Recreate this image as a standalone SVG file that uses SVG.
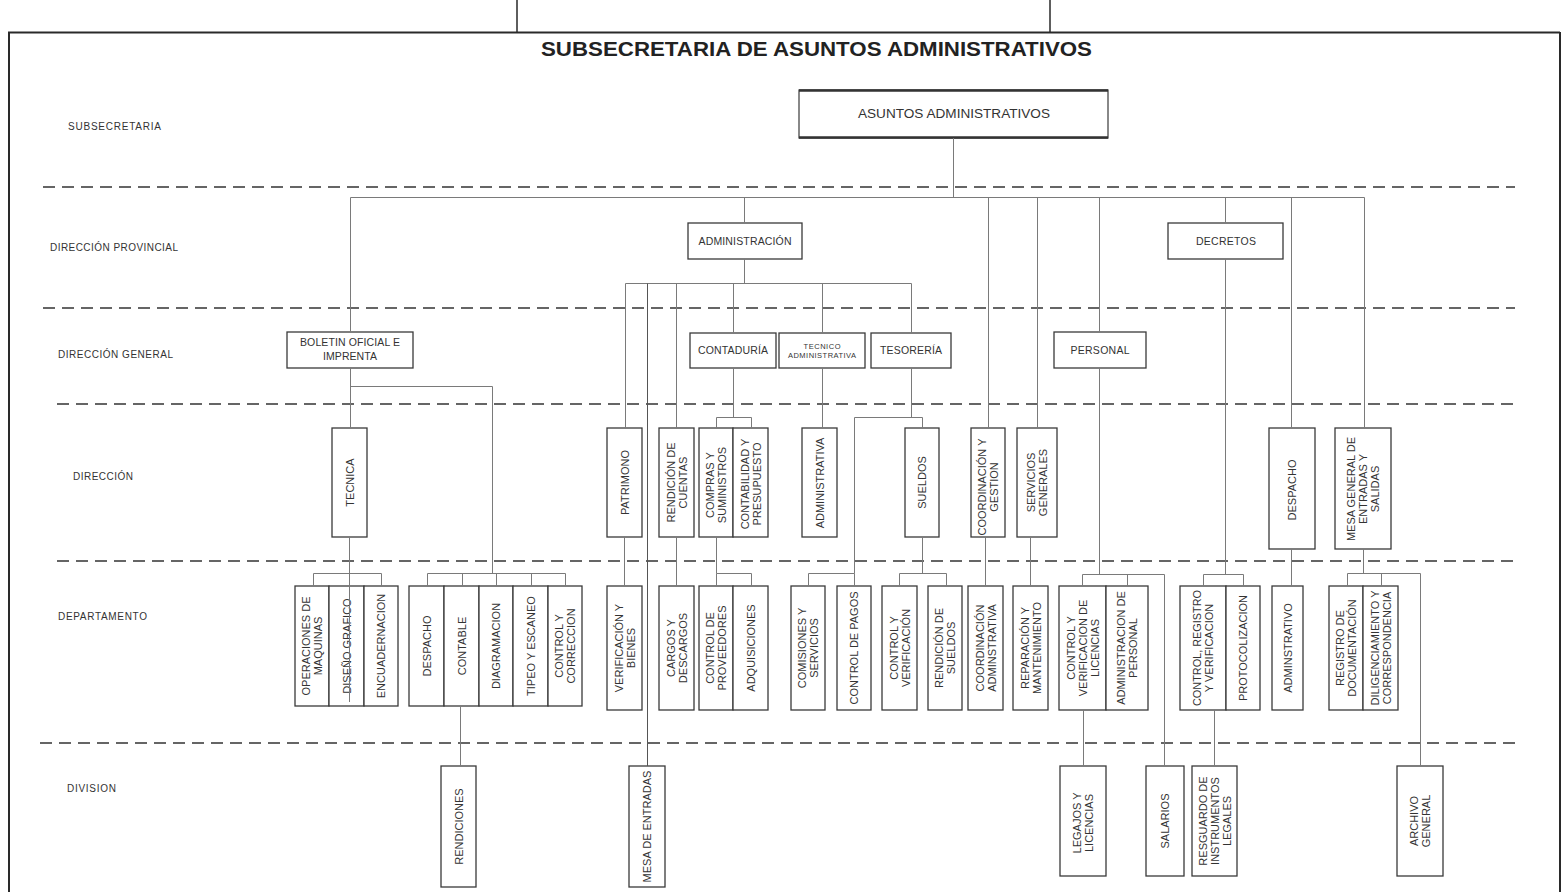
<svg xmlns="http://www.w3.org/2000/svg" width="1567" height="892" viewBox="0 0 1567 892">
<style>
.bg{fill:#fff}
.frame{fill:none;stroke:#2a2a2a;stroke-width:2}
.dash{fill:none;stroke:#333;stroke-width:1.3;stroke-dasharray:12 7}
.box{fill:#fff;stroke:#3a3a3a;stroke-width:1.3}
.c{fill:none;stroke:#7a7a7a;stroke-width:1}
.t{font-family:"Liberation Sans",Arial,sans-serif;fill:#333}
.lvl{font-size:10px}
.h{font-size:11px;text-anchor:middle}
.vt{font-size:11px;text-anchor:middle}
.title{font-size:20px;font-weight:bold;fill:#222}
</style>
<rect class="bg" x="0" y="0" width="1567" height="892"/>
<g id="frame">
<path class="frame" d="M8 32.5 H1560 M9 32 V892 M1560 32 V892"/>
<path class="frame" d="M517 0 V32 M1050 0 V32" style="stroke-width:1.5"/>
</g>
<text class="t title" x="541" y="56" textLength="551" lengthAdjust="spacingAndGlyphs">SUBSECRETARIA DE ASUNTOS ADMINISTRATIVOS</text>
<g id="levels">
<path class="dash" d="M43 187 H1515"/>
<path class="dash" d="M43 308 H1515"/>
<path class="dash" d="M57 404 H1517"/>
<path class="dash" d="M57 561 H1517"/>
<path class="dash" d="M40 743 H1515"/>
<text class="t lvl" x="68" y="130" textLength="93">SUBSECRETARIA</text>
<text class="t lvl" x="50" y="251" textLength="128">DIRECCIÓN PROVINCIAL</text>
<text class="t lvl" x="58" y="358" textLength="115">DIRECCIÓN GENERAL</text>
<text class="t lvl" x="73" y="480" textLength="60">DIRECCIÓN</text>
<text class="t lvl" x="58" y="620" textLength="89">DEPARTAMENTO</text>
<text class="t lvl" x="67" y="792" textLength="49">DIVISION</text>
</g>
<g id="nodes">
<g id="n-asuntos"><rect class="box" x="799" y="90" width="309" height="48" style="stroke-width:1.2"/><path d="M799 90.5 H1108 M799 137.5 H1108" stroke="#333" stroke-width="2.5"/><text class="t h" x="954" y="118" style="font-size:12px" textLength="192" lengthAdjust="spacingAndGlyphs">ASUNTOS ADMINISTRATIVOS</text></g>
<g id="n-administracion"><rect class="box" x="688" y="223" width="114" height="36"/><text class="t h" x="745" y="245" style="font-size:10.5px" textLength="93">ADMINISTRACIÓN</text></g>
<g id="n-decretos"><rect class="box" x="1168" y="223" width="115" height="36"/><text class="t h" x="1226" y="245" style="font-size:10.5px" textLength="60">DECRETOS</text></g>
<g id="n-boletin"><rect class="box" x="287" y="332" width="126" height="36"/><text class="t h" x="350" y="346" style="font-size:10.5px"><tspan x="350" y="346" textLength="100">BOLETIN OFICIAL E</tspan><tspan x="350" y="360" textLength="54">IMPRENTA</tspan></text></g>
<g id="n-contaduria"><rect class="box" x="690" y="333" width="86" height="35"/><text class="t h" x="733" y="354" style="font-size:10.5px" textLength="70">CONTADURÍA</text></g>
<g id="n-tecnico-adm"><rect class="box" x="779" y="333" width="86" height="35"/><text class="t h" style="font-size:7.5px"><tspan x="822" y="348.5" textLength="37">TECNICO</tspan><tspan x="822" y="357.5" textLength="68">ADMINISTRATIVA</tspan></text></g>
<g id="n-tesoreria"><rect class="box" x="871" y="333" width="80" height="35"/><text class="t h" x="911" y="354" style="font-size:10.5px" textLength="62">TESORERÍA</text></g>
<g id="n-personal"><rect class="box" x="1054" y="332" width="92" height="36"/><text class="t h" x="1100" y="354" style="font-size:10.5px" textLength="59">PERSONAL</text></g>

<g id="n-tecnica"><rect class="box" x="332" y="428" width="35" height="109"/><text class="t vt" transform="translate(349.5 482.5) rotate(-90)"><tspan x="0" y="4">TECNICA</tspan></text></g>
<g id="n-patrimono"><rect class="box" x="607" y="428" width="35" height="109"/><text class="t vt" transform="translate(624.5 482.5) rotate(-90)"><tspan x="0" y="4">PATRIMONO</tspan></text></g>
<g id="n-rendicion-cuentas"><rect class="box" x="659" y="428" width="35" height="109"/><text class="t vt" transform="translate(676.5 482.5) rotate(-90)"><tspan x="0" y="-2">RENDICIÓN DE</tspan><tspan x="0" y="10">CUENTAS</tspan></text></g>
<g id="n-compras"><rect class="box" x="699" y="428" width="34" height="109"/><text class="t vt" transform="translate(716 485) rotate(-90)"><tspan x="0" y="-2">COMPRAS Y</tspan><tspan x="0" y="10">SUMINISTROS</tspan></text></g>
<g id="n-contabilidad"><rect class="box" x="733" y="428" width="35" height="109"/><text class="t vt" transform="translate(750.5 484) rotate(-90)"><tspan x="0" y="-2">CONTABILIDAD Y</tspan><tspan x="0" y="10">PRESUPUESTO</tspan></text></g>
<g id="n-administrativa"><rect class="box" x="802" y="428" width="35" height="109"/><text class="t vt" transform="translate(819.5 483) rotate(-90)"><tspan x="0" y="4">ADMINISTRATIVA</tspan></text></g>
<g id="n-sueldos"><rect class="box" x="905" y="428" width="34" height="109"/><text class="t vt" transform="translate(922 482.5) rotate(-90)"><tspan x="0" y="4">SUELDOS</tspan></text></g>
<g id="n-coordinacion-gestion"><rect class="box" x="971" y="428" width="34" height="109"/><text class="t vt" transform="translate(988 487) rotate(-90)"><tspan x="0" y="-2">COORDINACIÓN Y</tspan><tspan x="0" y="10">GESTION</tspan></text></g>
<g id="n-servicios-generales"><rect class="box" x="1017" y="428" width="40" height="109"/><text class="t vt" transform="translate(1037 482.5) rotate(-90)"><tspan x="0" y="-2">SERVICIOS</tspan><tspan x="0" y="10">GENERALES</tspan></text></g>
<g id="n-despacho-dir"><rect class="box" x="1269" y="428" width="46" height="121"/><text class="t vt" transform="translate(1292 490) rotate(-90)"><tspan x="0" y="4">DESPACHO</tspan></text></g>
<g id="n-mesa-general"><rect class="box" x="1335" y="428" width="56" height="121"/><text class="t vt" transform="translate(1363 489) rotate(-90)"><tspan x="0" y="-8">MESA GENERAL DE</tspan><tspan x="0" y="4">ENTRADAS Y</tspan><tspan x="0" y="16">SALIDAS</tspan></text></g>

<g id="n-operaciones"><rect class="box" x="295" y="586" width="34" height="120"/><text class="t vt" transform="translate(312 646) rotate(-90)"><tspan x="0" y="-2">OPERACIONES DE</tspan><tspan x="0" y="10">MAQUINAS</tspan></text></g>
<g id="n-diseno"><rect class="box" x="329" y="586" width="35" height="120"/><text class="t vt" transform="translate(346.5 646) rotate(-90)"><tspan x="0" y="4">DISEÑO GRAFICO</tspan></text></g>
<g id="n-encuadernacion"><rect class="box" x="364" y="586" width="34" height="120"/><text class="t vt" transform="translate(381 646) rotate(-90)"><tspan x="0" y="4">ENCUADERNACION</tspan></text></g>
<g id="n-despacho-dep"><rect class="box" x="409" y="586" width="35" height="120"/><text class="t vt" transform="translate(426.5 646) rotate(-90)"><tspan x="0" y="4">DESPACHO</tspan></text></g>
<g id="n-contable"><rect class="box" x="444" y="586" width="35" height="120"/><text class="t vt" transform="translate(461.5 646) rotate(-90)"><tspan x="0" y="4">CONTABLE</tspan></text></g>
<g id="n-diagramacion"><rect class="box" x="479" y="586" width="34" height="120"/><text class="t vt" transform="translate(496 646) rotate(-90)"><tspan x="0" y="4">DIAGRAMACION</tspan></text></g>
<g id="n-tipeo"><rect class="box" x="513" y="586" width="35" height="120"/><text class="t vt" transform="translate(530.5 646) rotate(-90)"><tspan x="0" y="4">TIPEO Y ESCANEO</tspan></text></g>
<g id="n-control-correccion"><rect class="box" x="548" y="586" width="34" height="120"/><text class="t vt" transform="translate(565 646) rotate(-90)"><tspan x="0" y="-2">CONTROL Y</tspan><tspan x="0" y="10">CORRECCION</tspan></text></g>
<g id="n-verificacion-bienes"><rect class="box" x="607" y="586" width="35" height="124"/><text class="t vt" transform="translate(624.5 648) rotate(-90)"><tspan x="0" y="-2">VERIFICACIÓN Y</tspan><tspan x="0" y="10">BIENES</tspan></text></g>
<g id="n-cargos"><rect class="box" x="659" y="586" width="35" height="124"/><text class="t vt" transform="translate(676.5 648) rotate(-90)"><tspan x="0" y="-2">CARGOS Y</tspan><tspan x="0" y="10">DESCARGOS</tspan></text></g>
<g id="n-control-proveedores"><rect class="box" x="699" y="586" width="34" height="124"/><text class="t vt" transform="translate(716 648) rotate(-90)"><tspan x="0" y="-2">CONTROL DE</tspan><tspan x="0" y="10">PROVEEDORES</tspan></text></g>
<g id="n-adquisiciones"><rect class="box" x="733" y="586" width="35" height="124"/><text class="t vt" transform="translate(750.5 648) rotate(-90)"><tspan x="0" y="4">ADQUISICIONES</tspan></text></g>
<g id="n-comisiones"><rect class="box" x="791" y="586" width="34" height="124"/><text class="t vt" transform="translate(808 648) rotate(-90)"><tspan x="0" y="-2">COMISIONES Y</tspan><tspan x="0" y="10">SERVICIOS</tspan></text></g>
<g id="n-control-pagos"><rect class="box" x="837" y="586" width="34" height="124"/><text class="t vt" transform="translate(854 648) rotate(-90)"><tspan x="0" y="4">CONTROL DE PAGOS</tspan></text></g>
<g id="n-control-verificacion"><rect class="box" x="882" y="586" width="35" height="124"/><text class="t vt" transform="translate(899.5 648) rotate(-90)"><tspan x="0" y="-2">CONTROL Y</tspan><tspan x="0" y="10">VERIFICACIÓN</tspan></text></g>
<g id="n-rendicion-sueldos"><rect class="box" x="928" y="586" width="34" height="124"/><text class="t vt" transform="translate(945 648) rotate(-90)"><tspan x="0" y="-2">RENDICIÓN DE</tspan><tspan x="0" y="10">SUELDOS</tspan></text></g>
<g id="n-coordinacion-adm"><rect class="box" x="968" y="586" width="35" height="124"/><text class="t vt" transform="translate(985.5 648) rotate(-90)"><tspan x="0" y="-2">COORDINACIÓN</tspan><tspan x="0" y="10">ADMINSTRATIVA</tspan></text></g>
<g id="n-reparacion"><rect class="box" x="1013" y="586" width="35" height="124"/><text class="t vt" transform="translate(1030.5 648) rotate(-90)"><tspan x="0" y="-2">REPARACIÓN Y</tspan><tspan x="0" y="10">MANTENIMIENTO</tspan></text></g>
<g id="n-control-licencias"><rect class="box" x="1059" y="586" width="47" height="124"/><text class="t vt" transform="translate(1082.5 648) rotate(-90)"><tspan x="0" y="-8">CONTROL Y</tspan><tspan x="0" y="4">VERIFICACION DE</tspan><tspan x="0" y="16">LICENCIAS</tspan></text></g>
<g id="n-adm-personal"><rect class="box" x="1106" y="586" width="42" height="124"/><text class="t vt" transform="translate(1127 648) rotate(-90)"><tspan x="0" y="-2">ADMINISTRACION DE</tspan><tspan x="0" y="10">PERSONAL</tspan></text></g>
<g id="n-control-registro"><rect class="box" x="1180" y="586" width="46" height="124"/><text class="t vt" transform="translate(1203 648) rotate(-90)"><tspan x="0" y="-2" textLength="116" lengthAdjust="spacingAndGlyphs">CONTROL, REGISTRO</tspan><tspan x="0" y="10">Y VERIFICACION</tspan></text></g>
<g id="n-protocolizacion"><rect class="box" x="1226" y="586" width="34" height="124"/><text class="t vt" transform="translate(1243 648) rotate(-90)"><tspan x="0" y="4">PROTOCOLIZACION</tspan></text></g>
<g id="n-administrativo"><rect class="box" x="1272" y="586" width="31" height="124"/><text class="t vt" transform="translate(1287.5 648) rotate(-90)"><tspan x="0" y="4">ADMINSTRATIVO</tspan></text></g>
<g id="n-registro-doc"><rect class="box" x="1329" y="586" width="34" height="124"/><text class="t vt" transform="translate(1346 648) rotate(-90)"><tspan x="0" y="-2">REGISTRO DE</tspan><tspan x="0" y="10">DOCUMENTACIÓN</tspan></text></g>
<g id="n-diligenciamiento"><rect class="box" x="1363" y="586" width="35" height="124"/><text class="t vt" transform="translate(1380.5 648) rotate(-90)"><tspan x="0" y="-2">DILIGENCIAMIENTO Y</tspan><tspan x="0" y="10">CORRESPONDENCIA</tspan></text></g>

<g id="n-rendiciones"><rect class="box" x="441" y="766" width="35" height="121"/><text class="t vt" transform="translate(458.5 826.5) rotate(-90)"><tspan x="0" y="4">RENDICIONES</tspan></text></g>
<g id="n-mesa-entradas"><rect class="box" x="629" y="766" width="36" height="121"/><text class="t vt" transform="translate(647 826.5) rotate(-90)"><tspan x="0" y="4">MESA DE ENTRADAS</tspan></text></g>
<g id="n-legajos"><rect class="box" x="1060" y="766" width="46" height="110"/><text class="t vt" transform="translate(1083 823) rotate(-90)"><tspan x="0" y="-2">LEGAJOS Y</tspan><tspan x="0" y="10">LICENCIAS</tspan></text></g>
<g id="n-salarios"><rect class="box" x="1146" y="766" width="38" height="110"/><text class="t vt" transform="translate(1165 821) rotate(-90)"><tspan x="0" y="4">SALARIOS</tspan></text></g>
<g id="n-resguardo"><rect class="box" x="1192" y="766" width="45" height="110"/><text class="t vt" transform="translate(1214.5 821) rotate(-90)"><tspan x="0" y="-8">RESGUARDO DE</tspan><tspan x="0" y="4">INSTRUMENTOS</tspan><tspan x="0" y="16">LEGALES</tspan></text></g>
<g id="n-archivo"><rect class="box" x="1397" y="766" width="46" height="110"/><text class="t vt" transform="translate(1420 821) rotate(-90)"><tspan x="0" y="-2">ARCHIVO</tspan><tspan x="0" y="10">GENERAL</tspan></text></g>
</g>
<g id="connectors">
<path class="c" d="M953.5 138 V197.5 M350.5 197.5 H1364.5"/>
<path class="c" d="M350.5 197.5 V332 M744.5 197.5 V223 M988.5 197.5 V428 M1037.5 197.5 V428 M1099.5 197.5 V332 M1225.5 197.5 V223 M1291.5 197.5 V428 M1364.5 197.5 V428"/>
<path class="c" d="M350.5 368 V428 M350.5 386.5 H492.5 V573"/>
<path class="c" d="M349.5 537 V702 M313.5 573.5 H381.5 M313.5 573.5 V586 M381.5 573.5 V586"/>
<path class="c" d="M427.5 573.5 H565.5 M427.5 573.5 V586 M462.5 573.5 V586 M496.5 573.5 V586 M531.5 573.5 V586 M565.5 573.5 V586"/>
<path class="c" d="M460.5 706 V766"/>
<path class="c" d="M744.5 259 V283.5 M625.5 283.5 H911.5 M625.5 283.5 V428 M676.5 283.5 V428 M733.5 283.5 V333 M822.5 283.5 V333 M911.5 283.5 V333"/>
<path class="c" d="M647.5 283.5 V766" style="stroke:#555"/>
<path class="c" d="M624.5 537 V586 M676.5 537 V586"/>
<path class="c" d="M733.5 368 V417.5 M716.5 417.5 H751.5 M716.5 417.5 V428 M751.5 417.5 V428"/>
<path class="c" d="M716.5 537 V573.5 H751.5 V586 M716.5 573.5 V586"/>
<path class="c" d="M822.5 368 V428"/>
<path class="c" d="M911.5 368 V417.5 M854.5 417.5 H922.5 M922.5 417.5 V428 M854.5 417.5 V573.5 H808.5 V586 M854.5 573.5 V586"/>
<path class="c" d="M922.5 537 V573.5 M899.5 573.5 H946.5 M899.5 573.5 V586 M946.5 573.5 V586"/>
<path class="c" d="M985.5 537 V586 M1030.5 537 V586"/>
<path class="c" d="M1099.5 368 V574.5 M1082.5 574.5 H1164.5 M1082.5 574.5 V586 M1127.5 574.5 V586 M1164.5 574.5 V766"/>
<path class="c" d="M1083.5 710 V766"/>
<path class="c" d="M1225.5 259 V574.5 M1203.5 574.5 H1243.5 M1203.5 574.5 V586 M1243.5 574.5 V586"/>
<path class="c" d="M1214.5 710 V766"/>
<path class="c" d="M1291.5 549 V586"/>
<path class="c" d="M1363.5 549 V573.5 M1347.5 573.5 H1420.5 M1347.5 573.5 V586 M1381.5 573.5 V586 M1420.5 573.5 V766"/>
</g>
</svg>
